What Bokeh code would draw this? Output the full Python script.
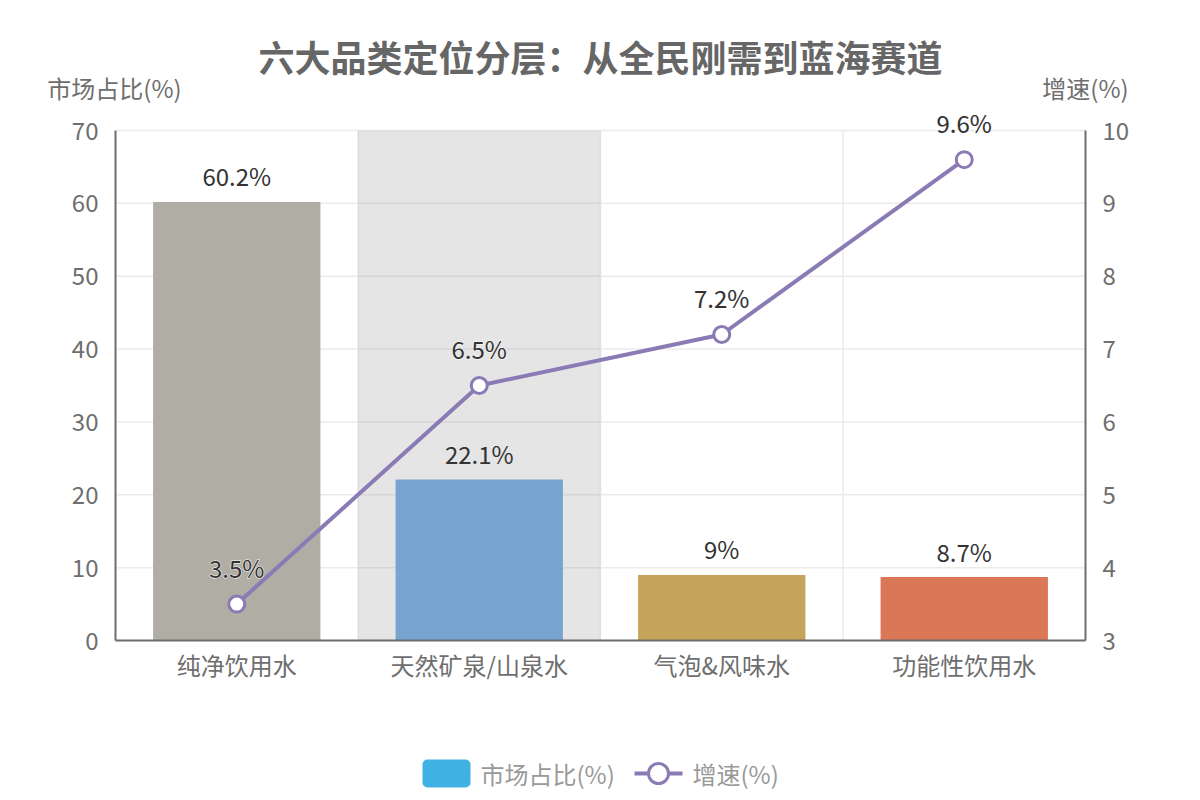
from bokeh.plotting import figure
from bokeh.models import (ColumnDataSource, Range1d, LinearAxis, FixedTicker,
                          Label, BoxAnnotation)
from bokeh.core.properties import value
from bokeh.embed import file_html
from bokeh.resources import INLINE

# ---- data ----
categories = ["纯净饮用水", "天然矿泉/山泉水", "气泡&风味水", "功能性饮用水"]
market_share = [60.2, 22.1, 9, 8.7]          # 市场占比(%)
growth_rate = [3.5, 6.5, 7.2, 9.6]           # 增速(%)
bar_colors = ["#b0ada5", "#77a3cf", "#c4a35a", "#d97757"]
highlighted = "天然矿泉/山泉水"
share_ticks = [0, 10, 20, 30, 40, 50, 60, 70]
growth_ticks = [3, 4, 5, 6, 7, 8, 9, 10]
series_names = ["市场占比(%)", "增速(%)"]

FONT = "Noto Sans CJK SC"
FS = "24px"
LINE_COLOR = "#8a7bb5"
W, H = 1200, 800
# plot-area margins (px): left, right, top, bottom
ML, MR, MT, MB = 115, 115, 130, 160

n = len(categories)
xs = [i + 0.5 for i in range(n)]
src = ColumnDataSource(dict(
    x=xs, cat=categories, share=market_share, growth=growth_rate,
    color=bar_colors,
    share_lbl=[f"{v:g}%" for v in market_share],
    growth_lbl=[f"{v:g}%" for v in growth_rate],
))

# The frame spans the whole canvas; axes are pinned at the plot-area edges.
px_x = (W - ML - MR) / n
s0, s1 = share_ticks[0], share_ticks[-1]
g0, g1 = growth_ticks[0], growth_ticks[-1]
px_s = (H - MT - MB) / (s1 - s0)
px_g = (H - MT - MB) / (g1 - g0)

p = figure(width=W, height=H, output_backend="svg", toolbar_location=None,
           title_location=None, min_border=0,
           x_range=Range1d(-ML / px_x, n + MR / px_x),
           y_range=Range1d(s0 - MB / px_s, s1 + MT / px_s))
p.extra_y_ranges = {"growth": Range1d(g0 - MB / px_g, g1 + MT / px_g)}
p.outline_line_color = None
p.background_fill_color = "white"
p.border_fill_color = "white"
p.xgrid.visible = False
p.ygrid.visible = False

# ---- axes ----
def style_axis(ax):
    ax.axis_line_color = "#6e6e6e"
    ax.axis_line_width = 2
    ax.major_tick_line_color = None
    ax.minor_tick_line_color = None
    ax.major_label_text_font = FONT
    ax.major_label_text_font_size = FS
    ax.major_label_text_color = "#6e6e6e"

xax = p.xaxis[0]
xax.fixed_location = s0
xax.bounds = (0, n)
xax.ticker = FixedTicker(ticks=xs)
xax.major_label_overrides = {x: c for x, c in zip(xs, categories)}
xax.major_label_standoff = 0
style_axis(xax)

yax = p.yaxis[0]
yax.fixed_location = 0
yax.bounds = (s0, s1)
yax.ticker = FixedTicker(ticks=share_ticks)
yax.major_label_standoff = 11
style_axis(yax)

right_axis = LinearAxis(y_range_name="growth", fixed_location=n, bounds=(g0, g1),
                        ticker=FixedTicker(ticks=growth_ticks),
                        major_label_standoff=11)
style_axis(right_axis)
p.add_layout(right_axis, "right")

# ---- grid ----
p.segment(x0=0, x1=n, y0=share_ticks, y1=share_ticks,
          line_color="#ebebeb", line_width=1.5)
p.segment(x0=list(range(1, n)), x1=list(range(1, n)), y0=s0, y1=s1,
          line_color="#ebebeb", line_width=1.5)

# ---- highlighted category band ----
hi = categories.index(highlighted)
p.quad(left=[hi], right=[hi + 1], bottom=[s0], top=[s1],
       fill_color="#969696", fill_alpha=0.25, line_color=None)

# ---- bars ----
p.vbar(x="x", top="share", width=0.69, bottom=0, source=src,
       fill_color="color", line_color=None)
p.text(x="x", y="share", text="share_lbl", source=src,
       text_align="center", text_baseline="middle", y_offset=-26,
       text_font=value(FONT), text_font_size=FS, text_color="#333333")

# ---- growth line ----
p.line(x="x", y="growth", source=src, y_range_name="growth",
       line_color=LINE_COLOR, line_width=4)
p.scatter(x="x", y="growth", source=src, y_range_name="growth",
          size=16, fill_color="white", line_color=LINE_COLOR, line_width=3)
# white halo underneath, crisp text on top
for outline in ("white", None):
    p.text(x="x", y="growth", text="growth_lbl", source=src, y_range_name="growth",
           text_align="center", text_baseline="middle", y_offset=-37,
           text_font=value(FONT), text_font_size=FS, text_color="#333333",
           text_outline_color=outline)

# ---- titles ----
p.add_layout(Label(x=W / 2, y=H - 55, x_units="screen", y_units="screen",
                   text="六大品类定位分层：从全民刚需到蓝海赛道",
                   text_align="center", text_baseline="middle",
                   text_font=FONT, text_font_size="36px", text_font_style="bold",
                   text_color="#666666"))
p.add_layout(Label(x=ML - 1, y=H - 87, x_units="screen", y_units="screen",
                   text=series_names[0], text_align="center", text_baseline="middle",
                   text_font=FONT, text_font_size=FS, text_color="#6e6e6e"))
p.add_layout(Label(x=W - MR, y=H - 87, x_units="screen", y_units="screen",
                   text=series_names[1], text_align="center", text_baseline="middle",
                   text_font=FONT, text_font_size=FS, text_color="#6e6e6e"))

# ---- legend (bottom centre) ----
LEG_Y = 27          # legend row centre, px above canvas bottom
LEG_X = 422         # legend left edge
SW_W, SW_H = 48, 28

def sbox(**kw):
    return BoxAnnotation(left_units="screen", right_units="screen",
                         top_units="screen", bottom_units="screen", **kw)

# bar series swatch
p.add_layout(sbox(left=LEG_X, right=LEG_X + SW_W,
                  bottom=LEG_Y - SW_H / 2, top=LEG_Y + SW_H / 2,
                  fill_color="#3fb1e3", fill_alpha=1, line_color=None,
                  border_radius=5))
p.add_layout(Label(x=LEG_X + SW_W + 10, y=LEG_Y, x_units="screen", y_units="screen",
                   text=series_names[0], text_align="left", text_baseline="middle",
                   text_font=FONT, text_font_size=FS, text_color="#999999"))

# line series swatch: line segment with hollow circle
lx = LEG_X + 212
p.add_layout(sbox(left=lx, right=lx + SW_W, bottom=LEG_Y - 2, top=LEG_Y + 2,
                  fill_color=LINE_COLOR, fill_alpha=1, line_color=None))
cx, r = lx + SW_W / 2, 10
p.add_layout(sbox(left=cx - r, right=cx + r, bottom=LEG_Y - r, top=LEG_Y + r,
                  fill_color="white", fill_alpha=1, line_color=LINE_COLOR,
                  line_width=3, line_alpha=1, border_radius=r))
p.add_layout(Label(x=lx + SW_W + 10, y=LEG_Y, x_units="screen", y_units="screen",
                   text=series_names[1], text_align="left", text_baseline="middle",
                   text_font=FONT, text_font_size=FS, text_color="#999999"))

open("out.html", "w").write(file_html(p, INLINE))
